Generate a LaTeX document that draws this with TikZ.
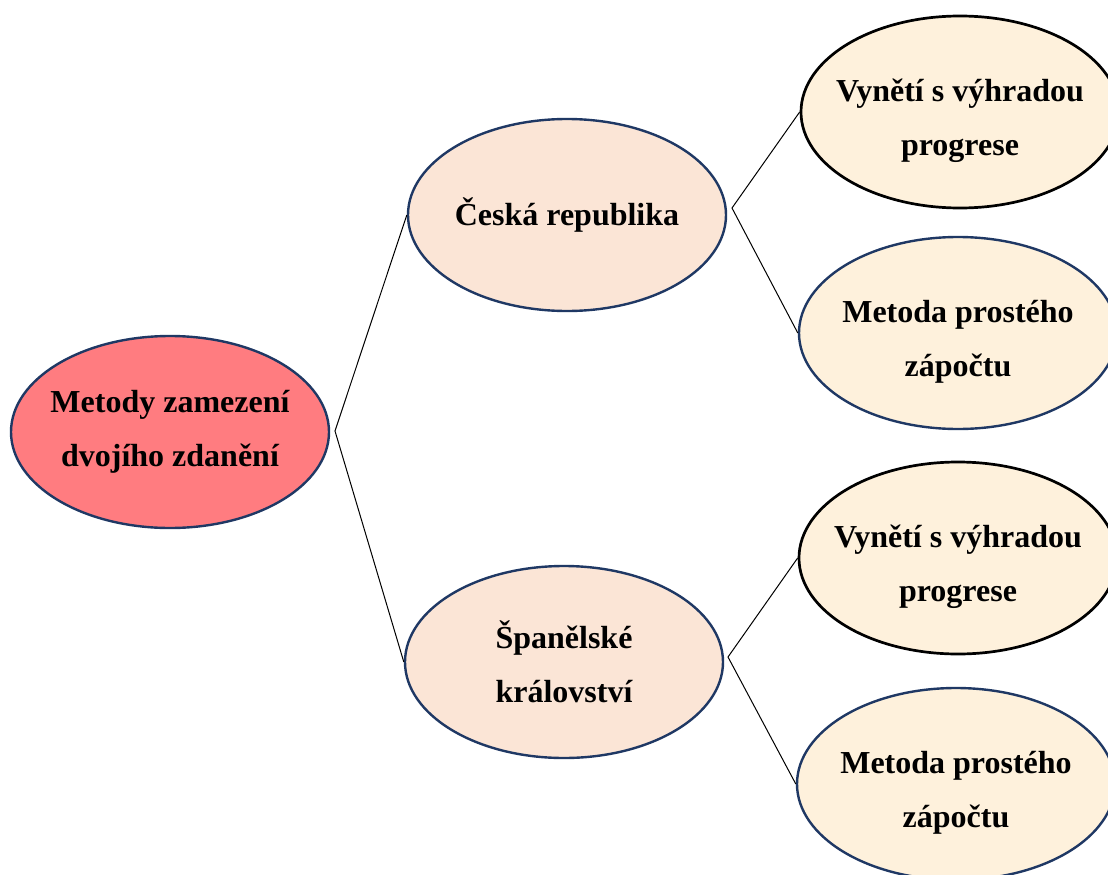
\documentclass[tikz,border=0pt]{standalone}
\usepackage{fontspec}
\setmainfont{Liberation Serif}
\usetikzlibrary{shapes.geometric}
\definecolor{navy}{HTML}{1F3864}
\definecolor{rootfill}{HTML}{FF7C80}
\definecolor{midfill}{HTML}{FBE5D6}
\definecolor{leaffill}{HTML}{FEF1DC}
\tikzset{
  txt/.style={font=\fontsize{32}{54}\selectfont\bfseries, align=center},
  oval/.style={ellipse, draw=navy, line width=2.4pt, inner xsep=-30pt, inner ysep=0pt,
    minimum width=318pt, minimum height=192pt, txt},
  rootnode/.style={oval, fill=rootfill},
  midnode/.style={oval, fill=midfill},
  leafnode/.style={oval, fill=leaffill},
  blackleaf/.style={leafnode, draw=black, line width=2.7pt},
  leaftext/.style={txt, inner sep=0pt, yshift=-8.5pt},
  link/.style={draw=black, line width=1pt}
}
\begin{document}
\begin{tikzpicture}[x=1pt,y=-1pt]
\useasboundingbox (0,0) rectangle (1108,875);
\fill[white] (0,0) rectangle (1108,875);
\node[rootnode] (root) at (170,432) {Metody zamezení\\dvojího zdanění};
\node[midnode] (cz) at (567,215) {Česká republika};
\node[midnode] (es) at (564,662) {Španělské\\království};
\node[blackleaf, label={[leaftext]center:{Vynětí s výhradou\\progrese}}] (cz1) at (960,112) {};
\node[leafnode, label={[leaftext]center:{Metoda prostého\\zápočtu}}] (cz2) at (958,333) {};
\node[blackleaf, label={[leaftext]center:{Vynětí s výhradou\\progrese}}] (es1) at (958,558) {};
\node[leafnode, label={[leaftext]center:{Metoda prostého\\zápočtu}}] (es2) at (956,784) {};
\coordinate (j0) at (335,431);
\coordinate (j1) at (732,208);
\coordinate (j2) at (728,657);
\draw[link] (cz.west) -- (j0) -- (es.west);
\draw[link] (cz1.west) -- (j1) -- (cz2.west);
\draw[link] (es1.west) -- (j2) -- (es2.west);
\end{tikzpicture}
\end{document}
